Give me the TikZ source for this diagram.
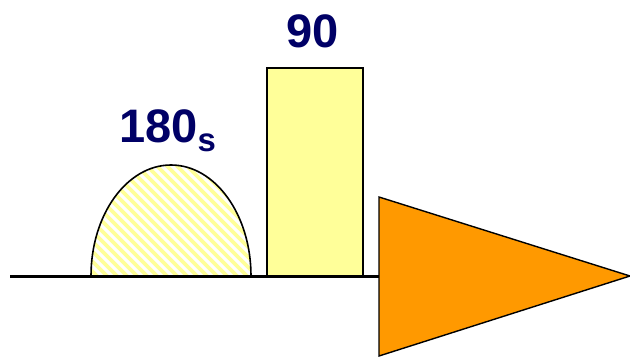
\documentclass[tikz,border=0pt]{standalone}
\usepackage{fontspec}
\setmainfont{Liberation Sans}
\definecolor{navy}{RGB}{0,0,102}
\definecolor{paleyellow}{RGB}{255,255,153}
\definecolor{orangefill}{RGB}{255,153,0}
\begin{document}
\begin{tikzpicture}[x=1pt,y=-1pt,
  lbl/.style={text=navy,font=\fontsize{47}{50}\selectfont\bfseries,inner sep=0pt},
  hatch/.style={paleyellow,line width=3.6pt},
  outline/.style={draw=black,line width=1.6pt}]
\useasboundingbox (0,0) rectangle (630,359);
% hatched half ellipse
\begin{scope}
  \clip (91,276) arc[start angle=180,end angle=360,x radius=80,y radius=111] -- cycle;
  \foreach \i in {-30,...,30} \draw[hatch] (91+\i*10,150) -- ++(140,140);
\end{scope}
\draw[outline] (91,276) arc[start angle=180,end angle=360,x radius=80,y radius=111];
% rectangle
\draw[outline,fill=paleyellow] (267,276) rectangle (363,68);
% baseline
\coordinate (bl) at (10,276);
\coordinate (br) at (379,276);
\draw[line width=3pt] (bl) -- (br);
% triangle
\draw[line width=1.4pt,fill=orangefill,line join=miter] (379,197) -- (630,276) -- (379,356) -- cycle;
% labels
\node[lbl] (n90) at (313,31) {90};
\node[lbl,anchor=base west] (n180) at (119,142) {180\textsubscript{s}};
\end{tikzpicture}
\end{document}
